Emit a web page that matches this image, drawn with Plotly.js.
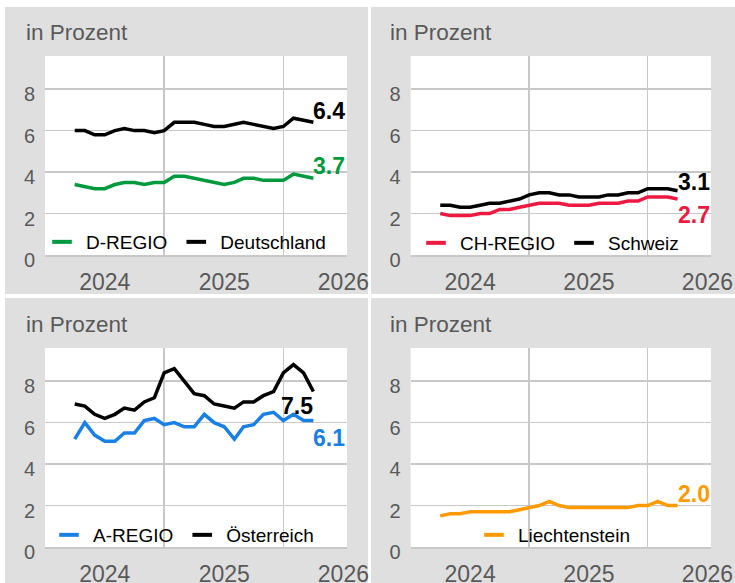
<!DOCTYPE html>
<html><head><meta charset="utf-8">
<script src="https://cdn.plot.ly/plotly-3.0.1.min.js"></script>
<style>html,body{margin:0;padding:0;background:#fff}</style>
</head><body><div id="chart" style="width:735px;height:583px"></div>
<script>
// ---- data ----
const months = ['2023-10-01','2023-11-01','2023-12-01','2024-01-01','2024-02-01','2024-03-01','2024-04-01','2024-05-01','2024-06-01','2024-07-01','2024-08-01','2024-09-01','2024-10-01','2024-11-01','2024-12-01','2025-01-01','2025-02-01','2025-03-01','2025-04-01','2025-05-01','2025-06-01','2025-07-01','2025-08-01','2025-09-01','2025-10-01'];
const yearTicks = ['2024-01-01','2025-01-01','2026-01-01'];
const yearLabels = ['2024','2025','2026'];
const midYearGrid = ['2024-07-01','2025-07-01'];
const yTicks = [0,2,4,6,8];

const dRegio      = [3.4,3.3,3.2,3.2,3.4,3.5,3.5,3.4,3.5,3.5,3.8,3.8,3.7,3.6,3.5,3.4,3.5,3.7,3.7,3.6,3.6,3.6,3.9,3.8,3.7];
const deutschland = [6.0,6.0,5.8,5.8,6.0,6.1,6.0,6.0,5.9,6.0,6.4,6.4,6.4,6.3,6.2,6.2,6.3,6.4,6.3,6.2,6.1,6.2,6.6,6.5,6.4];
const chRegio     = [2.0,1.9,1.9,1.9,2.0,2.0,2.2,2.2,2.3,2.4,2.5,2.5,2.5,2.4,2.4,2.4,2.5,2.5,2.5,2.6,2.6,2.8,2.8,2.8,2.7];
const schweiz     = [2.4,2.4,2.3,2.3,2.4,2.5,2.5,2.6,2.7,2.9,3.0,3.0,2.9,2.9,2.8,2.8,2.8,2.9,2.9,3.0,3.0,3.2,3.2,3.2,3.1];
const aRegio      = [5.2,6.0,5.4,5.1,5.1,5.5,5.5,6.1,6.2,5.9,6.0,5.8,5.8,6.4,6.0,5.8,5.2,5.8,5.9,6.4,6.5,6.1,6.4,6.1,6.1];
const oesterreich = [6.9,6.8,6.4,6.2,6.4,6.7,6.6,7.0,7.2,8.4,8.6,8.0,7.4,7.3,6.9,6.8,6.7,7.0,7.0,7.3,7.5,8.4,8.8,8.4,7.5];
const liechtenstein = [1.5,1.6,1.6,1.7,1.7,1.7,1.7,1.7,1.8,1.9,2.0,2.2,2.0,1.9,1.9,1.9,1.9,1.9,1.9,1.9,2.0,2.0,2.2,2.0,2.0];

const unitLabel = 'in Prozent';

// ---- styling ----
const W = 735, H = 583;
const FONT = 'Liberation Sans, Arial, sans-serif';
const GRID = '#c8c8c8';
const GREY_TXT = '#595959';
const PANEL_BG = '#dfdfdf';
const px = p => p / W;
const py = p => 1 - p / H;

const panels = [
  {id:'', dom:[45,347], vdom:[56,255], legendX:38, legendY:242, unitXY:[27,33],
   series:[{name:'D-REGIO', y:dRegio, color:'#009a3e', anchor:'left', shift:12},
           {name:'Deutschland', y:deutschland, color:'#000000', anchor:'left', shift:11}]},
  {id:'2', dom:[410.7,711], vdom:[56,255], legendX:412, legendY:243, unitXY:[391,33],
   series:[{name:'CH-REGIO', y:chRegio, color:'#ee1941', anchor:'left', shift:-16},
           {name:'Schweiz', y:schweiz, color:'#000000', anchor:'left', shift:9}]},
  {id:'3', dom:[45,347], vdom:[348,547], legendX:45, legendY:535, unitXY:[27,324],
   series:[{name:'A-REGIO', y:aRegio, color:'#1a80e5', anchor:'left', shift:-17},
           {name:'Österreich', y:oesterreich, color:'#000000', anchor:'right', shift:-14}]},
  {id:'4', dom:[410.7,711], vdom:[348,547], legendX:470, legendY:535, unitXY:[391,324],
   series:[{name:'Liechtenstein', y:liechtenstein, color:'#ff9a00', anchor:'left', shift:12}]}
];

const data = [];
const annotations = [];
const layout = {
  width: W, height: H,
  margin: {l:0, r:0, t:0, b:0},
  paper_bgcolor: PANEL_BG,
  plot_bgcolor: '#ffffff',
  font: {family: FONT},
  showlegend: true,
  shapes: [
    {type:'rect', xref:'paper', yref:'paper', x0:0, x1:1, y0:py(7), y1:1, fillcolor:'#ffffff', line:{width:0}, layer:'below'},
    {type:'rect', xref:'paper', yref:'paper', x0:0, x1:px(5), y0:0, y1:1, fillcolor:'#ffffff', line:{width:0}, layer:'below'},
    {type:'rect', xref:'paper', yref:'paper', x0:px(368), x1:px(371), y0:0, y1:1, fillcolor:'#ffffff', line:{width:0}, layer:'below'},
    {type:'rect', xref:'paper', yref:'paper', x0:0, x1:1, y0:py(298), y1:py(294), fillcolor:'#ffffff', line:{width:0}, layer:'below'}
  ],
  annotations: annotations
};

panels.forEach((p, i) => {
  const xa = 'xaxis' + p.id, ya = 'yaxis' + p.id;
  const xr = 'x' + p.id, yr = 'y' + p.id;
  const lg = 'legend' + (i === 0 ? '' : (i + 1));
  layout[xa] = {
    type:'date', domain:[px(p.dom[0]), px(p.dom[1])], anchor: yr,
    range:['2023-07-02','2026-01-12'],
    tickmode:'array', tickvals: yearTicks, ticktext: yearLabels,
    showgrid:false, zeroline:false, ticks:'',
    showline:true, linecolor: GRID, linewidth:1.5,
    tickfont:{family: FONT, size:23, color: GREY_TXT},
    ticklabelstandoff: 6,
    minor:{tickmode:'array', tickvals: midYearGrid, showgrid:true, gridcolor: GRID, gridwidth:1.5, ticks:''},
    fixedrange:true
  };
  layout[ya] = {
    domain:[py(p.vdom[1]), py(p.vdom[0])], anchor: xr,
    range:[0, 9.6], tickmode:'array', tickvals: yTicks,
    showgrid:true, gridcolor: GRID, gridwidth:1.5, zeroline:false, ticks:'',
    tickfont:{family: FONT, size:20, color: GREY_TXT},
    ticklabelstandoff: 9, ticklabelshift: 5,
    fixedrange:true
  };
  layout[lg] = {
    orientation:'h', x: px(p.legendX), y: py(p.legendY), xanchor:'left', yanchor:'middle',
    xref:'paper', yref:'paper',
    bgcolor:'rgba(0,0,0,0)', borderwidth:0, itemwidth:38, traceorder:'normal',
    font:{family: FONT, size:19, color:'#000000'}, itemclick:false, itemdoubleclick:false
  };
  annotations.push({
    xref:'paper', yref:'paper', x: px(p.unitXY[0]), y: py(p.unitXY[1]),
    xanchor:'left', yanchor:'middle', xshift:-3, showarrow:false, text: unitLabel,
    font:{family: FONT, size:22.5, color: GREY_TXT}
  });
  p.series.forEach(s => {
    data.push({
      type:'scatter', mode:'lines', x: months, y: s.y, xaxis: xr, yaxis: yr,
      line:{color: s.color, width:3.5}, showlegend:false, hoverinfo:'skip'
    });
  });
  p.series.forEach(s => {
    data.push({
      type:'scatter', mode:'markers', x:[null], y:[null], xaxis: xr, yaxis: yr,
      name: s.name, legend: lg, showlegend:true, hoverinfo:'skip',
      marker:{symbol:'line-ew', size:14, color: s.color, line:{color: s.color, width:4}}
    });
    const last = s.y.length - 1;
    annotations.push({
      xref: xr, yref: yr, x: months[last], y: s.y[last],
      xanchor: s.anchor, yanchor:'middle', showarrow:false,
      xshift: s.anchor === 'left' ? -2 : 2, yshift: s.shift,
      text: s.y[last].toFixed(1),
      font:{family: FONT, size:23, color: s.color, weight:700}
    });
  });
});

Plotly.newPlot('chart', data, layout, {staticPlot:true, displayModeBar:false});
</script>
</body></html>
